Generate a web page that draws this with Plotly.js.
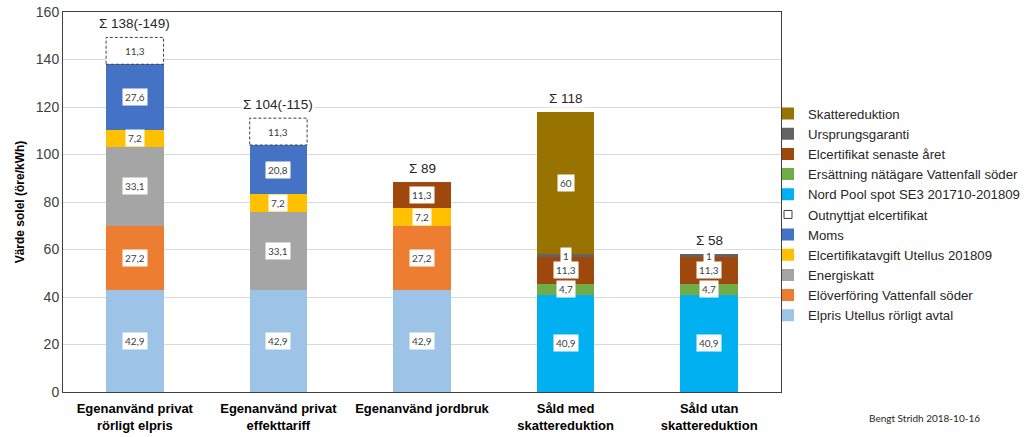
<!DOCTYPE html>
<html>
<head>
<meta charset="utf-8">
<script src="https://cdn.plot.ly/plotly-3.0.1.min.js"></script>
<style>html,body{margin:0;padding:0;background:#fff;}#chart{width:1024px;height:437px;}</style>
</head>
<body>
<div id="chart"></div>
<script>
var categories = ["Egenanvänd privat<br>rörligt elpris", "Egenanvänd privat<br>effekttariff", "Egenanvänd jordbruk", "Såld med<br>skattereduktion", "Såld utan<br>skattereduktion"];
var elpris        = [42.9, 42.9, 42.9, null, null];
var eloverforing  = [27.2, null, 27.2, null, null];
var energiskatt   = [33.1, 33.1, null, null, null];
var elcertavgift  = [7.2, 7.2, 7.2, null, null];
var moms          = [27.6, 20.8, null, null, null];
var outnyttjat    = [11.3, 11.3, null, null, null];
var nordpool      = [null, null, null, 40.9, 40.9];
var ersattning    = [null, null, null, 4.7, 4.7];
var elcertSenaste = [null, null, 11.3, 11.3, 11.3];
var ursprung      = [null, null, null, 1, 1];
var skatteRed     = [null, null, null, 60, null];
var sumLabels     = ["Σ 138(-149)", "Σ 104(-115)", "Σ 89", "Σ 118", "Σ 58"];

var series = [
  {name: "Elpris Utellus rörligt avtal", y: elpris, color: "#9DC3E6"},
  {name: "Elöverföring Vattenfall söder", y: eloverforing, color: "#ED7D31"},
  {name: "Energiskatt", y: energiskatt, color: "#A5A5A5"},
  {name: "Elcertifikatavgift Utellus 201809", y: elcertavgift, color: "#FFC000"},
  {name: "Moms", y: moms, color: "#4472C4"},
  {name: "Outnyttjat elcertifikat", y: outnyttjat, color: "#FFFFFF", dashed: true},
  {name: "Nord Pool spot SE3 201710-201809", y: nordpool, color: "#00B0F0"},
  {name: "Ersättning nätägare Vattenfall söder", y: ersattning, color: "#70AD47"},
  {name: "Elcertifikat senaste året", y: elcertSenaste, color: "#9E480E"},
  {name: "Ursprungsgaranti", y: ursprung, color: "#636363"},
  {name: "Skattereduktion", y: skatteRed, color: "#997300"}
];

var traces = [];
var annotations = [];
var shapes = [];
var cum = categories.map(function(){return 0;});
var halfW = 0.2;

series.forEach(function(s, si){
  traces.push({
    type: "bar", x: categories, y: s.y, name: s.name,
    marker: {color: s.color, line: {width: 0}},
    showlegend: !s.dashed, legendrank: si + 1,
    hoverinfo: "skip"
  });
  if (s.dashed) {
    traces.push({
      type: "scatter", mode: "markers", x: [null], y: [null], name: s.name,
      marker: {symbol: "square-open", size: 8, color: "#404040", line: {width: 1}},
      showlegend: true, legendrank: si + 1, hoverinfo: "skip"
    });
  }
  s.y.forEach(function(v, ci){
    if (v === null) return;
    var base = cum[ci];
    var mid = base + v / 2;
    annotations.push({
      x: ci, y: mid, xref: "x", yref: "y",
      text: String(v).replace(".", ","), showarrow: false,
      font: {family: "Lato, 'Open Sans', sans-serif", size: 10, color: "#404040"},
      bgcolor: "#FFFFFF", borderpad: 2
    });
    if (s.dashed) {
      shapes.push({
        type: "rect", xref: "x", yref: "y",
        x0: ci - halfW, x1: ci + halfW, y0: base, y1: base + v,
        line: {color: "#404040", width: 1, dash: "3px,2px"}, fillcolor: "rgba(0,0,0,0)", layer: "above"
      });
    }
    cum[ci] = base + v;
  });
});

cum.forEach(function(top, ci){
  annotations.push({
    x: ci, y: top, xref: "x", yref: "y", yanchor: "bottom", yshift: 4,
    text: sumLabels[ci], showarrow: false,
    font: {family: "'Liberation Sans', Arial, sans-serif", size: 13.5, color: "#262626"},
    bgcolor: "#FFFFFF", borderpad: 1
  });
});

annotations.push({
  xref: "paper", yref: "paper", x: 1.28, y: -0.047, xanchor: "right", yanchor: "top",
  text: "Bengt Stridh 2018-10-16", showarrow: false,
  font: {family: "Lato, 'Open Sans', sans-serif", size: 10, color: "#262626"}
});

var layout = {
  width: 1024, height: 437,
  margin: {l: 63, r: 243, t: 12, b: 45, autoexpand: false},
  paper_bgcolor: "#FFFFFF", plot_bgcolor: "#FFFFFF",
  barmode: "stack", bargap: 0.6,
  font: {family: "'Liberation Sans', Arial, sans-serif", color: "#404040"},
  xaxis: {
    type: "category", showline: true, linecolor: "#404040", linewidth: 1, mirror: true,
    ticks: "", showgrid: false, ticklabelstandoff: 4,
    tickfont: {family: "'Liberation Sans', Arial, sans-serif", size: 13, color: "#000000", weight: "bold"}
  },
  yaxis: {
    range: [0, 160], dtick: 20, showline: true, linecolor: "#404040", linewidth: 1, mirror: true,
    gridcolor: "#D9D9D9", gridwidth: 1, zeroline: false, ticks: "",
    tickfont: {family: "'Liberation Sans', Arial, sans-serif", size: 14, color: "#404040"},
    title: {text: "Värde solel (öre/kWh)", standoff: 8,
      font: {family: "'Liberation Sans', Arial, sans-serif", size: 12, color: "#000000", weight: "bold"}}
  },
  legend: {
    xref: "container", yref: "container",
    x: 0.75, xanchor: "left", y: 0.7745, yanchor: "top",
    traceorder: "reversed", bgcolor: "rgba(0,0,0,0)",
    font: {family: "'Liberation Sans', Arial, sans-serif", size: 13.2, color: "#262626"},
    itemwidth: 30, tracegroupgap: 0, maxheight: 400
  },
  annotations: annotations,
  shapes: shapes
};

Plotly.newPlot("chart", traces, layout, {displayModeBar: false, staticPlot: true});
</script>
</body>
</html>
